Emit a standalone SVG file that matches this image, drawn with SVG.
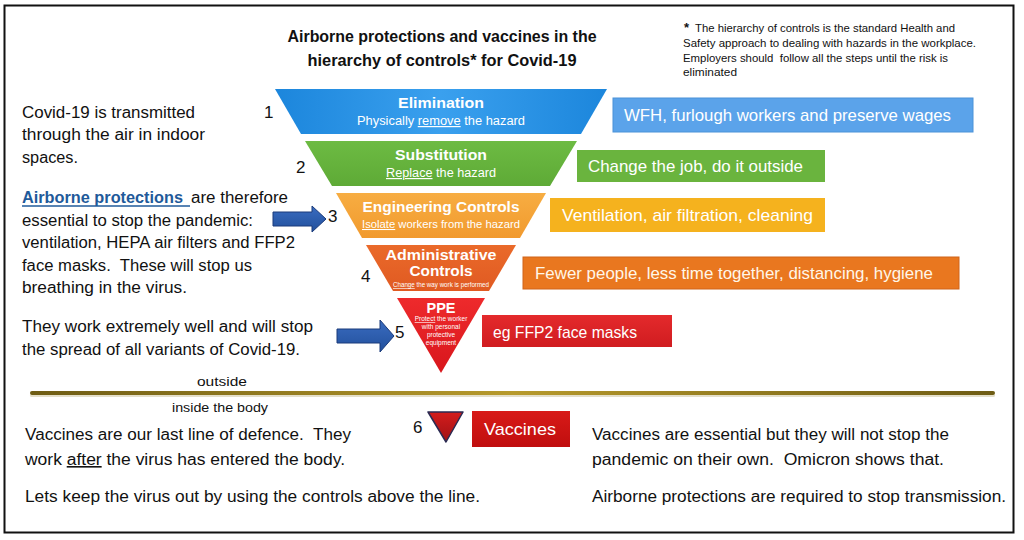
<svg xmlns="http://www.w3.org/2000/svg" width="1024" height="540" viewBox="0 0 1024 540">
<defs>
<linearGradient id="gBlue" x1="0" y1="0" x2="1" y2="0"><stop offset="0" stop-color="#1c86dc"/><stop offset="0.5" stop-color="#3aa0ee"/><stop offset="1" stop-color="#1c86dc"/></linearGradient>
<linearGradient id="gGreen" x1="0" y1="0" x2="0" y2="1"><stop offset="0" stop-color="#6dbb43"/><stop offset="1" stop-color="#5eaa36"/></linearGradient>
<linearGradient id="gOrange" x1="0" y1="0" x2="0" y2="1"><stop offset="0" stop-color="#f7ad42"/><stop offset="1" stop-color="#f19a2e"/></linearGradient>
<linearGradient id="gAdmin" x1="0" y1="0" x2="0" y2="1"><stop offset="0" stop-color="#ea6a2a"/><stop offset="1" stop-color="#e05a22"/></linearGradient>
<linearGradient id="gPPE" x1="0" y1="0" x2="0" y2="1"><stop offset="0" stop-color="#ee2a2c"/><stop offset="1" stop-color="#d8161c"/></linearGradient>
<linearGradient id="gVacc" x1="0" y1="0" x2="0" y2="1"><stop offset="0" stop-color="#d41c1c"/><stop offset="1" stop-color="#a01216"/></linearGradient>
<linearGradient id="gArrow" x1="0" y1="0" x2="0" y2="1"><stop offset="0" stop-color="#3a6cc0"/><stop offset="1" stop-color="#22509c"/></linearGradient>
<linearGradient id="gLine" x1="0" y1="0" x2="1" y2="0"><stop offset="0" stop-color="#6e5c14"/><stop offset="0.5" stop-color="#b79a2c"/><stop offset="1" stop-color="#6e5c14"/></linearGradient>
<linearGradient id="gBoxRed" x1="0" y1="0" x2="0" y2="1"><stop offset="0" stop-color="#e42a2c"/><stop offset="1" stop-color="#d01c20"/></linearGradient>
<linearGradient id="gBoxVacc" x1="0" y1="0" x2="0" y2="1"><stop offset="0" stop-color="#d81a18"/><stop offset="1" stop-color="#c00e0e"/></linearGradient>
</defs>
<style>
.t{font-family:"Liberation Sans",Arial,sans-serif;fill:#111;white-space:pre}
.body{font-size:16px}
.link{fill:#1f5a9a;font-weight:bold}
.num{font-family:"Liberation Sans",Arial,sans-serif;font-size:17px;fill:#111}
.bt{font-family:"Liberation Sans",Arial,sans-serif;font-weight:bold;fill:#fff;text-anchor:middle}
.bs{font-family:"Liberation Sans",Arial,sans-serif;fill:#fff;text-anchor:middle}
.bx{font-family:"Liberation Sans",Arial,sans-serif;font-size:17px;fill:#fff}
.ul{text-decoration:underline}
.arrow{fill:url(#gArrow);stroke:#1a3a7a;stroke-width:1}
</style>
<rect x="4.5" y="5.5" width="1009" height="527" fill="#fff" stroke="#111" stroke-width="2"/>

<g id="title">
<text class="t" x="442" y="42" font-size="17" font-weight="bold" text-anchor="middle" textLength="309" lengthAdjust="spacingAndGlyphs">Airborne protections and vaccines in the</text>
<text class="t" x="442" y="66" font-size="17" font-weight="bold" text-anchor="middle" textLength="269" lengthAdjust="spacingAndGlyphs">hierarchy of controls* for Covid-19</text>
</g>

<g id="note">
<text class="t" x="684" y="32" font-size="13" font-weight="bold">*</text>
<text class="t" x="695" y="32" font-size="11" textLength="260" lengthAdjust="spacingAndGlyphs">The hierarchy of controls is the standard Health and</text>
<text class="t" x="683" y="47" font-size="11" textLength="293" lengthAdjust="spacingAndGlyphs">Safety approach to dealing with hazards in the workplace.</text>
<text class="t" x="683" y="62" font-size="11" textLength="265" lengthAdjust="spacingAndGlyphs">Employers should  follow all the steps until the risk is</text>
<text class="t" x="683" y="76" font-size="11" textLength="54" lengthAdjust="spacingAndGlyphs">eliminated</text>
</g>

<g id="left-text">
<text class="t body" x="22" y="118" textLength="173" lengthAdjust="spacingAndGlyphs">Covid-19 is transmitted</text>
<text class="t body" x="22" y="140" textLength="183" lengthAdjust="spacingAndGlyphs">through the air in indoor</text>
<text class="t body" x="22" y="163" textLength="56" lengthAdjust="spacingAndGlyphs">spaces.</text>
<text class="t body link" x="22" y="203" textLength="161" lengthAdjust="spacingAndGlyphs">Airborne protections</text>
<line x1="22" y1="206" x2="190" y2="206" stroke="#1f5a9a" stroke-width="1.5"/>
<text class="t body" x="191" y="203" textLength="97" lengthAdjust="spacingAndGlyphs">are therefore</text>
<text class="t body" x="22" y="226" textLength="231" lengthAdjust="spacingAndGlyphs">essential to stop the pandemic:</text>
<text class="t body" x="22" y="248" textLength="273" lengthAdjust="spacingAndGlyphs">ventilation, HEPA air filters and FFP2</text>
<text class="t body" x="22" y="271" textLength="230" lengthAdjust="spacingAndGlyphs">face masks.  These will stop us</text>
<text class="t body" x="22" y="293" textLength="165" lengthAdjust="spacingAndGlyphs">breathing in the virus.</text>
<text class="t body" x="22" y="332" textLength="291" lengthAdjust="spacingAndGlyphs">They work extremely well and will stop</text>
<text class="t body" x="22" y="355" textLength="278" lengthAdjust="spacingAndGlyphs">the spread of all variants of Covid-19.</text>
</g>

<g id="level1">
<polygon points="275,89 607,89 581,134 301,134" fill="url(#gBlue)"/>
<text class="bt" x="441" y="108" font-size="15" textLength="86" lengthAdjust="spacingAndGlyphs">Elimination</text>
<text class="bs" x="441" y="125" font-size="12" textLength="168" lengthAdjust="spacingAndGlyphs">Physically <tspan class="ul">remove</tspan> the hazard</text>
<text class="num" x="264" y="118">1</text>
</g>
<g id="level2">
<polygon points="305,141 577,141 550,186 332,186" fill="url(#gGreen)"/>
<text class="bt" x="441" y="160" font-size="15" textLength="92" lengthAdjust="spacingAndGlyphs">Substitution</text>
<text class="bs" x="441" y="177" font-size="12" textLength="110" lengthAdjust="spacingAndGlyphs"><tspan class="ul">Replace</tspan> the hazard</text>
<text class="num" x="296" y="173">2</text>
</g>
<g id="level3">
<polygon points="336,193 546,193 520,238 362,238" fill="url(#gOrange)"/>
<text class="bt" x="441" y="212" font-size="15" textLength="157" lengthAdjust="spacingAndGlyphs">Engineering Controls</text>
<text class="bs" x="441" y="228" font-size="10.5" textLength="158" lengthAdjust="spacingAndGlyphs"><tspan class="ul">Isolate</tspan> workers from the hazard</text>
<text class="num" x="328" y="222">3</text>
</g>
<g id="level4">
<polygon points="366,245 516,245 489,291 393,291" fill="url(#gAdmin)"/>
<text class="bt" x="441" y="260" font-size="14" textLength="111" lengthAdjust="spacingAndGlyphs">Administrative</text>
<text class="bt" x="441" y="276" font-size="14" textLength="63" lengthAdjust="spacingAndGlyphs">Controls</text>
<text class="bs" x="441" y="287" font-size="6.5" textLength="96" lengthAdjust="spacingAndGlyphs"><tspan class="ul">Change</tspan> the way work is performed</text>
<text class="num" x="361" y="282">4</text>
</g>
<g id="level5">
<polygon points="397,298 485,298 441,373" fill="url(#gPPE)"/>
<text class="bt" x="441" y="313" font-size="15" textLength="29" lengthAdjust="spacingAndGlyphs">PPE</text>
<text class="bs" x="441" y="321" font-size="6.5"><tspan class="ul">Protect</tspan> the worker</text>
<text class="bs" x="441" y="329" font-size="6.5">with personal</text>
<text class="bs" x="441" y="337" font-size="6.5">protective</text>
<text class="bs" x="441" y="345" font-size="6.5">equipment</text>
<text class="num" x="395" y="338">5</text>
</g>

<g id="box1">
<rect x="613" y="98" width="360" height="34" fill="#5ba3ea" stroke="#4b92d8" stroke-width="1"/>
<text class="bx" x="624" y="121" textLength="327" lengthAdjust="spacingAndGlyphs">WFH, furlough workers and preserve wages</text>
</g>
<g id="box2">
<rect x="577" y="150" width="248" height="32" fill="#6ab43e"/>
<text class="bx" x="588" y="172" textLength="215" lengthAdjust="spacingAndGlyphs">Change the job, do it outside</text>
</g>
<g id="box3">
<rect x="550" y="198" width="275" height="34" fill="#f5b21e"/>
<text class="bx" x="562" y="221" textLength="251" lengthAdjust="spacingAndGlyphs">Ventilation, air filtration, cleaning</text>
</g>
<g id="box4">
<rect x="523" y="257" width="436" height="32" fill="#e9771f" stroke="#d0641a" stroke-width="1"/>
<text class="bx" x="535" y="279" style="fill:#fff6e8" textLength="398" lengthAdjust="spacingAndGlyphs">Fewer people, less time together, distancing, hygiene</text>
</g>
<g id="box5">
<rect x="482" y="315" width="190" height="32" fill="url(#gBoxRed)"/>
<text class="bx" x="493" y="338" textLength="144" lengthAdjust="spacingAndGlyphs">eg FFP2 face masks</text>
</g>

<g id="divider">
<rect x="30" y="394" width="965" height="3" rx="1.5" fill="#d9d2b4" opacity="0.7"/>
<rect x="30" y="391" width="965" height="4" rx="2" fill="url(#gLine)"/>
<text class="t" x="222" y="386" font-size="12" text-anchor="middle" textLength="50" lengthAdjust="spacingAndGlyphs">outside</text>
<text class="t" x="220" y="412" font-size="12" text-anchor="middle" textLength="96" lengthAdjust="spacingAndGlyphs">inside the body</text>
</g>

<g id="level6">
<polygon points="428,412 463,412 446,442" fill="url(#gVacc)" stroke="#2a2a52" stroke-width="1.5" stroke-linejoin="round"/>
<text class="num" x="413" y="433">6</text>
</g>
<g id="box6">
<rect x="472" y="411" width="98" height="36" fill="url(#gBoxVacc)"/>
<text class="bx" x="484" y="435" textLength="72" lengthAdjust="spacingAndGlyphs">Vaccines</text>
</g>

<g id="bottom-text">
<text class="t" x="25" y="440" font-size="16" textLength="326" lengthAdjust="spacingAndGlyphs">Vaccines are our last line of defence.  They</text>
<text class="t" x="25" y="465" font-size="16" textLength="320" lengthAdjust="spacingAndGlyphs">work <tspan class="ul">after</tspan> the virus has entered the body.</text>
<text class="t" x="25" y="502" font-size="16" textLength="455" lengthAdjust="spacingAndGlyphs">Lets keep the virus out by using the controls above the line.</text>
<text class="t" x="592" y="440" font-size="16" textLength="357" lengthAdjust="spacingAndGlyphs">Vaccines are essential but they will not stop the</text>
<text class="t" x="592" y="465" font-size="16" textLength="352" lengthAdjust="spacingAndGlyphs">pandemic on their own.  Omicron shows that.</text>
<text class="t" x="592" y="502" font-size="16" textLength="414" lengthAdjust="spacingAndGlyphs">Airborne protections are required to stop transmission.</text>
</g>

<g id="connectors">
<path class="arrow" d="M273,212 L312,212 L312,206 L326,219 L312,232 L312,226 L273,226 Z"/>
<path class="arrow" d="M337,329 L380,329 L380,320 L394,336 L380,352 L380,343 L337,343 Z"/>
</g>
</svg>
